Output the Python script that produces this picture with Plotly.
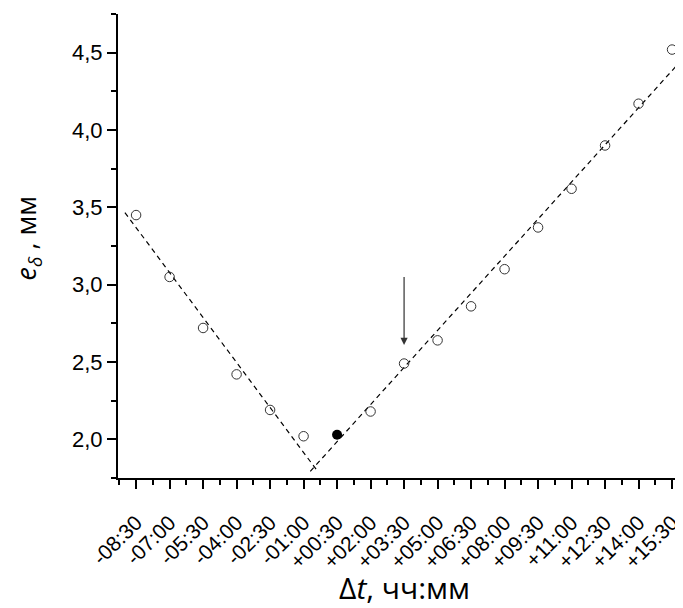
import plotly.graph_objects as go

# ---- data ----
tick_labels = ["-08:30", "-07:00", "-05:30", "-04:00", "-02:30", "-01:00",
               "+00:30", "+02:00", "+03:30", "+05:00", "+06:30", "+08:00",
               "+09:30", "+11:00", "+12:30", "+14:00", "+15:30"]
x_hours = [-8.5, -7.0, -5.5, -4.0, -2.5, -1.0, 0.5, 2.0, 3.5, 5.0, 6.5, 8.0,
           9.5, 11.0, 12.5, 14.0, 15.5]
e_values = [3.45, 3.05, 2.72, 2.42, 2.19, 2.02, 2.03, 2.18, 2.49, 2.64, 2.86,
            3.10, 3.37, 3.62, 3.90, 4.17, 4.52]
filled_index = 6  # +00:30 highlighted point

left_fit_x = [-9.0, -0.35]
left_fit_y = [3.466, 1.789]
right_fit_x = [-0.70, 15.82]
right_fit_y = [1.793, 4.435]

arrow_x = 3.5
arrow_y_top = 3.06
arrow_y_tip = 2.61

x_title = "Δ<i>t</i>, чч:мм"
y_title = "<i>e</i><sub><i>δ</i></sub> , мм"

open_x = [x for i, x in enumerate(x_hours) if i != filled_index]
open_y = [y for i, y in enumerate(e_values) if i != filled_index]

FONT = "Liberation Sans, Arial, sans-serif"
TFONT = "Open Sans, sans-serif"

fig = go.Figure()
fig.add_trace(go.Scatter(x=left_fit_x, y=left_fit_y, mode="lines",
                         line=dict(color="black", width=1.2, dash="5px,4px"),
                         hoverinfo="skip", cliponaxis=False))
fig.add_trace(go.Scatter(x=right_fit_x, y=right_fit_y, mode="lines",
                         line=dict(color="black", width=1.2, dash="5px,4px"),
                         hoverinfo="skip", cliponaxis=False))
fig.add_trace(go.Scatter(x=open_x, y=open_y, mode="markers", cliponaxis=False,
                         marker=dict(symbol="circle-open", size=9.5,
                                     color="#333333", line=dict(width=1))))
fig.add_trace(go.Scatter(x=[x_hours[filled_index]], y=[e_values[filled_index]],
                         mode="markers",
                         marker=dict(symbol="circle", size=10, color="black")))

fig.add_annotation(x=arrow_x, y=arrow_y_tip, ax=arrow_x, ay=arrow_y_top,
                   xref="x", yref="y", axref="x", ayref="y",
                   showarrow=True, arrowhead=2, arrowsize=1.2, arrowwidth=1.2,
                   arrowcolor="#333333", text="")

# axis titles placed as annotations for precise positioning
fig.add_annotation(text=y_title, xref="paper", yref="paper",
                   x=-0.161, y=0.517, xanchor="center", yanchor="middle",
                   textangle=-90, showarrow=False,
                   font=dict(size=27, family=TFONT, color="black"))
fig.add_annotation(text=x_title, xref="paper", yref="paper",
                   x=0.508, y=-0.235, xanchor="center", yanchor="middle",
                   showarrow=False,
                   font=dict(size=30, family=TFONT, color="black"))

# page body has an 8px margin, so the figure is offset by 8px
fig.update_layout(
    width=675, height=600,
    margin=dict(l=110, r=2, t=6, b=130),
    paper_bgcolor="white", plot_bgcolor="white",
    showlegend=False,
    separators=", ",
    font=dict(family=FONT, color="black"),
)
fig.update_xaxes(
    automargin=False,
    range=[-9.31, 15.9],
    tickmode="array", tickvals=x_hours, ticktext=tick_labels,
    tickangle=-45, ticklabeloverflow="allow",
    ticklabelstandoff=13,
    tickfont=dict(size=21, family=FONT, color="black"),
    showgrid=False, zeroline=False,
    showline=True, linecolor="black", linewidth=2,
    ticks="outside", ticklen=9, tickwidth=1.5, tickcolor="black",
    minor=dict(tickmode="linear", tick0=-8.5, dtick=0.75, ticks="outside",
               ticklen=5, tickwidth=1.5, tickcolor="black", showgrid=False),
)
fig.update_yaxes(
    automargin=False,
    range=[1.75, 4.75],
    tick0=2.0, dtick=0.5, tickformat=".1f",
    tickfont=dict(size=22, family=FONT, color="black"),
    showgrid=False, zeroline=False,
    showline=True, linecolor="black", linewidth=2,
    ticks="outside", ticklen=9, tickwidth=1.5, tickcolor="black",
    minor=dict(tick0=2.0, dtick=0.25, ticks="outside",
               ticklen=5, tickwidth=1.5, tickcolor="black", showgrid=False),
)

fig.write_html("out.html")
